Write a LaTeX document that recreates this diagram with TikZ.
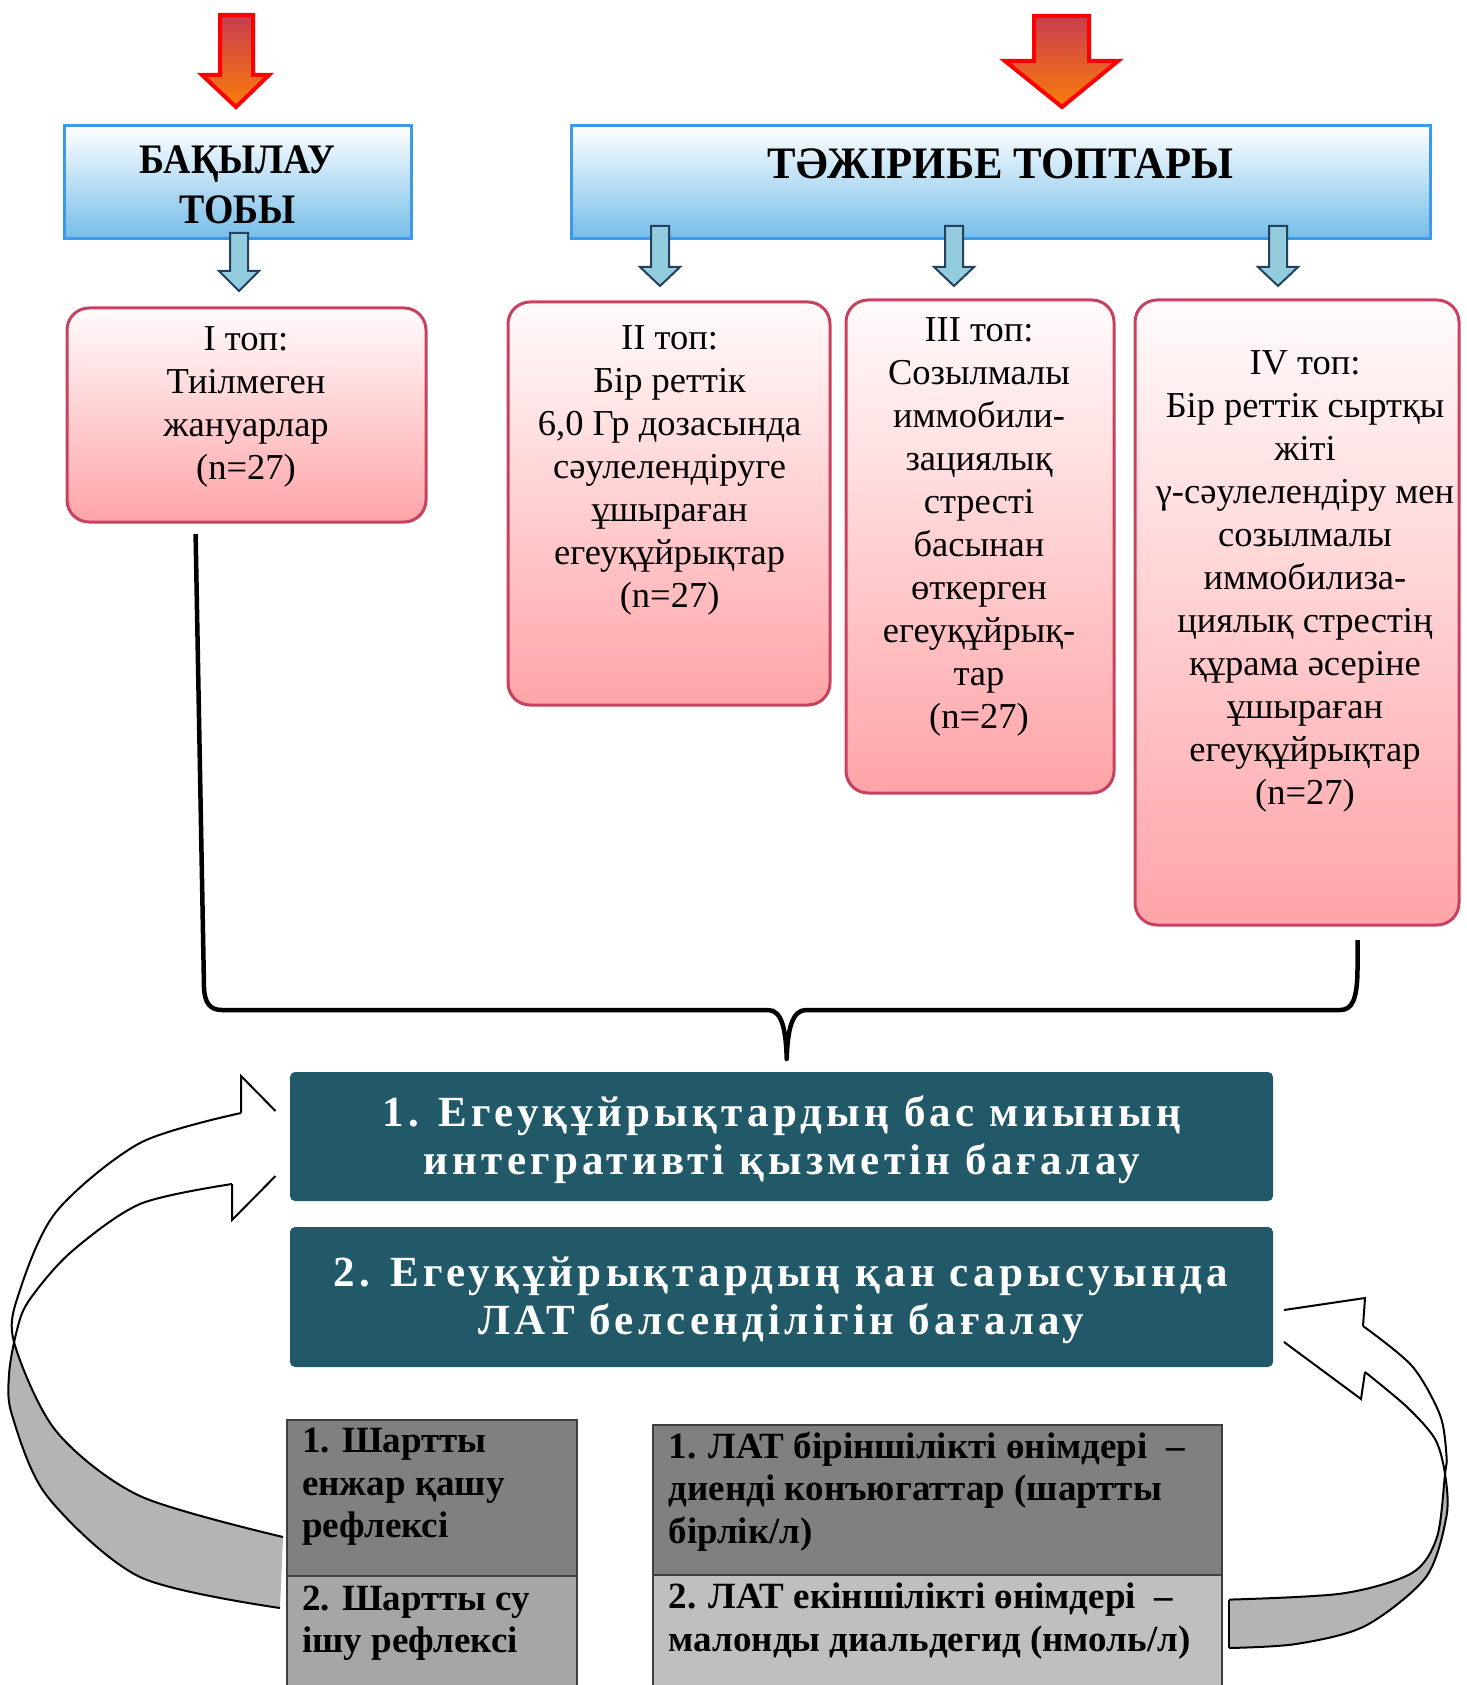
\documentclass[tikz,border=0pt]{standalone}
\usepackage{fontspec}
\setmainfont{Liberation Serif}
\definecolor{pinkb}{HTML}{C8415F}
\definecolor{pinkbot}{HTML}{FFA4A8}
\definecolor{pinktop}{HTML}{FFFBFB}
\definecolor{blueb}{HTML}{3D9AE8}
\definecolor{bluebot}{HTML}{74BDE9}
\definecolor{tealc}{HTML}{215968}
\definecolor{arrfill}{HTML}{93CDDD}
\definecolor{arrline}{HTML}{23405F}
\definecolor{redtop}{HTML}{C83C50}
\definecolor{redbot}{HTML}{FA7D0A}
\definecolor{cellA}{HTML}{808080}
\definecolor{cellB}{HTML}{A6A6A6}
\definecolor{cellC}{HTML}{BFBFBF}
\definecolor{cellline}{HTML}{3F3F3F}
\definecolor{bandgray}{HTML}{B4B4B4}
\tikzset{
  pinkbox/.style={draw=pinkb, line width=3, rounded corners=22, top color=pinktop, bottom color=pinkbot, inner sep=0, outer sep=0},
  bluebox/.style={draw=blueb, line width=3, top color=white, bottom color=bluebot, inner sep=0, outer sep=0},
  tealbox/.style={fill=tealc, rounded corners=5, inner sep=0, outer sep=0},
  ptext/.style={align=center, inner sep=0, font=\fontsize{36.5}{43}\selectfont},
  titletext/.style={align=center, inner sep=0, font=\fontsize{42}{50}\selectfont\bfseries\addfontfeature{FakeStretch=0.9}},
  tealtext/.style={align=center, inner sep=0, text=white, font=\fontsize{43}{48}\selectfont\bfseries\addfontfeature{LetterSpace=9.8}},
  celltext/.style={align=left, inner sep=0, anchor=west, font=\fontsize{37}{42.5}\selectfont\bfseries},
  cell/.style={draw=cellline, line width=1.5, inner sep=0, outer sep=0, anchor=north west},
  redarrow/.style={draw=red, line width=4, line join=miter, top color=redtop, bottom color=redbot},
  bluearrow/.style={draw=arrline, fill=arrfill, line width=2, line join=miter},
  ribbon/.style={draw=black, line width=2},
  bracket/.style={draw=black, line width=4.5, line join=round}
}
\newcommand\dnarrow[4]{%
  \path[bluearrow] (#1-9,#2) -- (#1+9,#2) -- (#1+9,#3) -- (#1+20,#3) -- (#1,#4) -- (#1-20,#3) -- (#1-9,#3) -- cycle;}
\begin{document}
\begin{tikzpicture}[x=1pt,y=-1pt]
\useasboundingbox (0,0) rectangle (1466,1685);

% red arrows
\path[redarrow] (220,15) -- (253,15) -- (253,75) -- (269,75) -- (236,107) -- (202,75) -- (220,75) -- cycle;
\path[redarrow] (1034,16) -- (1089,16) -- (1089,61) -- (1118,61) -- (1062,107) -- (1005,61) -- (1034,61) -- cycle;

% header boxes
\node[bluebox, minimum width=347, minimum height=113] (ctrl) at (237.5,182.5) {};
\node[titletext] (ctrlt) at (237.5,185) {БАҚЫЛАУ\\ТОБЫ};
\node[bluebox, minimum width=859, minimum height=113] (exp) at (1000.5,182.5) {};
\node[titletext, font=\fontsize{45}{50}\selectfont\bfseries\addfontfeature{FakeStretch=0.95}] (expt) at (1000.5,163.5) {ТӘЖІРИБЕ ТОПТАРЫ};

% small arrows
\dnarrow{239}{233}{271}{291}
\dnarrow{660}{226}{267}{286}
\dnarrow{954}{226}{267}{286}
\dnarrow{1278}{226}{267}{286}

% group boxes
\node[pinkbox, minimum width=359, minimum height=214] (g1) at (246.5,415) {};
\node[ptext] (g1t) at (246,406.5) {I топ:\\Тиілмеген\\жануарлар\\(n=27)};
\node[pinkbox, minimum width=322, minimum height=403] (g2) at (669,503.5) {};
\node[ptext] (g2t) at (669.6,470) {II топ:\\Бір реттік\\6,0 Гр дозасында\\сәулелендіруге\\ұшыраған\\егеуқұйрықтар\\(n=27)};
\node[pinkbox, minimum width=268, minimum height=493] (g3) at (980,546.5) {};
\node[ptext] (g3t) at (979,526.5) {III топ:\\Созылмалы\\иммобили-\\зациялық\\стресті\\басынан\\өткерген\\егеуқұйрық-\\тар\\(n=27)};
\node[pinkbox, minimum width=324, minimum height=625] (g4) at (1297,612.5) {};
\node[ptext] (g4t) at (1305,581.5) {IV топ:\\Бір реттік сыртқы\\жіті\\γ-сәулелендіру мен\\созылмалы\\иммобилиза-\\циялық стрестің\\құрама әсеріне\\ұшыраған\\егеуқұйрықтар\\(n=27)};

% bracket
\coordinate (bL) at (195.6,534);
\coordinate (bR) at (1357.5,940);
\coordinate (bT) at (786.7,1059);
\path[bracket] (bL) -- (204,987) .. controls (204.5,1003) and (210,1010) .. (222,1010) -- (768,1010) .. controls (782,1010) and (786,1030) .. (bT) .. controls (787.5,1030) and (792,1010) .. (806,1010) -- (1340,1010) .. controls (1352,1010) and (1357.5,1000) .. (1357.5,967) -- (bR);

% left curved ribbon arrow
\begin{scope}
\clip (0,1338) rectangle (300,1700);
\fill[bandgray] plot[smooth] coordinates {(241,1113) (140,1143) (56,1212) (19,1293) (14,1342) (56,1431) (140,1496) (283,1537)} -- plot[smooth] coordinates {(280,1608) (140,1577) (47,1496) (12,1415) (9,1375) (16,1334) (28,1302) (70,1253) (140,1204) (232,1184)} -- cycle;
\end{scope}
\path[ribbon] plot[smooth] coordinates {(241,1113) (140,1143) (56,1212) (19,1293) (14,1342) (56,1431) (140,1496) (283,1537)};
\path[ribbon] plot[smooth] coordinates {(232,1184) (140,1204) (70,1253) (28,1302) (16,1334) (9,1375) (12,1415) (47,1496) (140,1577) (280,1608)};
\path[ribbon] (275.5,1111) -- (241,1076) -- (241,1113);
\path[ribbon] (275.5,1176) -- (232,1220) -- (232,1184);

% right curved ribbon arrow
\begin{scope}
\clip (1200,1474) rectangle (1466,1700);
\fill[bandgray] plot[smooth] coordinates {(1363,1326) (1412,1366) (1440,1415) (1446.5,1456) (1445,1474) (1437,1537) (1412,1573) (1342,1593.5) (1229,1599.6)} -- plot[smooth] coordinates {(1229,1648) (1296,1644) (1365,1626) (1426,1577) (1446.5,1516) (1445,1474) (1435,1439) (1407,1407) (1365,1372)} -- cycle;
\end{scope}
\path[ribbon] plot[smooth] coordinates {(1363,1326) (1412,1366) (1440,1415) (1446.5,1456) (1445,1474) (1437,1537) (1412,1573) (1342,1593.5) (1229,1599.6)};
\path[ribbon] plot[smooth] coordinates {(1365,1372) (1407,1407) (1435,1439) (1445,1474) (1446.5,1516) (1426,1577) (1365,1626) (1296,1644) (1229,1648)};
\path[ribbon] (1229,1599.6) -- (1229,1648);
\path[ribbon] (1284,1310) -- (1365,1298) -- (1363,1326);
\path[ribbon] (1284,1342) -- (1361,1399) -- (1365,1372);

% teal boxes
\node[tealbox, minimum width=983, minimum height=129] (m1) at (781.5,1136.5) {};
\node[tealtext] (m1t) at (782,1140) {1. Егеуқұйрықтардың бас миының\\интегративті қызметін бағалау};
\node[tealbox, minimum width=983, minimum height=140] (m2) at (781.5,1297) {};
\node[tealtext] (m2t) at (781,1300) {2. Егеуқұйрықтардың қан сарысуында\\ЛАТ белсенділігін бағалау};

% tables
\node[cell, fill=cellA, minimum width=290, minimum height=156] (t1a) at (287,1420) {};
\node[cell, fill=cellB, minimum width=290, minimum height=115] (t1b) at (287,1576) {};
\node[celltext] (t1at) at (302,1487) {1. Шартты\\енжар қашу\\рефлексі};
\node[celltext] (t1bt) at (302,1623) {2. Шартты су\\ішу рефлексі};
\node[cell, fill=cellA, minimum width=569, minimum height=150] (t2a) at (653,1425) {};
\node[cell, fill=cellC, minimum width=569, minimum height=115] (t2b) at (653,1575) {};
\node[celltext] (t2at) at (668.5,1491.5) {1. ЛАТ біріншілікті өнімдері \ –\\диенді конъюгаттар (шартты\\бірлік/л)};
\node[celltext] (t2bt) at (668.5,1621) {2. ЛАТ екіншілікті өнімдері \ –\\малонды диальдегид (нмоль/л)};
\end{tikzpicture}
\end{document}
